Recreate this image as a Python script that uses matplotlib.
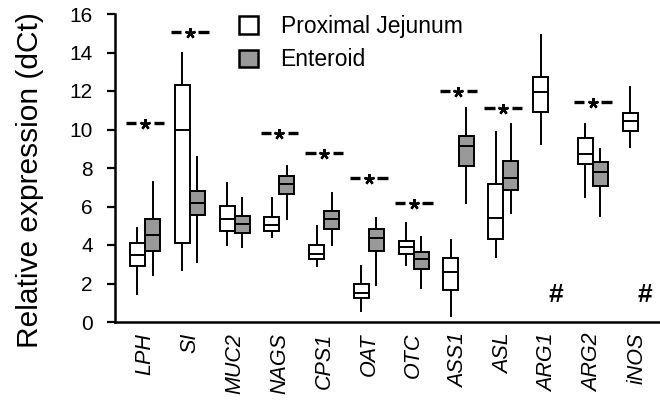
import numpy as np
import matplotlib
matplotlib.use("Agg")
import matplotlib.pyplot as plt
from matplotlib.patches import Patch

plt.rcParams['font.family'] = ['Liberation Sans', 'DejaVu Sans']

# Gene names on the x axis
genes = ['LPH', 'SI', 'MUC2', 'NAGS', 'CPS1', 'OAT', 'OTC', 'ASS1',
         'ASL', 'ARG1', 'ARG2', 'iNOS']

# Proximal jejunum boxes: whisker low, q1, median, q3, whisker high
jej_lo = [1.44, 2.70, 4.00, 4.43, 2.90, 0.57, 2.96, 0.31, 3.39, 9.23, 6.48, 9.07]
jej_q1 = [2.91, 4.08, 4.74, 4.74, 3.27, 1.23, 3.51, 1.66, 4.29, 10.89, 8.21, 9.92]
jej_med = [3.48, 9.97, 5.35, 5.04, 3.53, 1.49, 3.88, 2.61, 5.38, 11.96, 8.73, 10.44]
jej_q3 = [4.12, 12.30, 6.03, 5.44, 4.00, 1.97, 4.23, 3.34, 7.17, 12.74, 9.58, 10.87]
jej_hi = [4.90, 14.00, 7.24, 6.46, 4.99, 2.93, 5.13, 4.26, 9.89, 14.90, 10.27, 12.22]

# Enteroid boxes (ARG1 and iNOS not detected -> None)
ent_lo = [2.42, 3.13, 3.91, 5.35, 4.00, 1.92, 1.75, 6.20, 5.68, None, 5.51, None]
ent_q1 = [3.69, 5.56, 4.64, 6.63, 4.81, 3.71, 2.75, 8.12, 6.86, None, 7.08, None]
ent_med = [4.52, 6.20, 5.07, 7.15, 5.33, 4.35, 3.27, 9.16, 7.46, None, 7.81, None]
ent_q3 = [5.35, 6.82, 5.52, 7.58, 5.78, 4.83, 3.62, 9.66, 8.36, None, 8.30, None]
ent_hi = [7.29, 8.59, 6.42, 8.12, 6.68, 5.38, 4.43, 11.13, 10.27, None, 8.97, None]

# Significance bars (None = no star)
sig_y = [10.34, 15.05, None, 9.80, 8.76, 7.50, 6.17, 12.02, 11.10, None, 11.45, None]
# "#" = not detected in enteroid
nd_y = 1.4

gray = '#999999'
x = np.arange(len(genes))
off = 0.168
bw = 0.335

fig = plt.figure(figsize=(6.6, 4.01), dpi=100)
ax = fig.add_axes([115 / 660, 79 / 401, 545 / 660, 308 / 401])


def stats(lo, q1, med, q3, hi):
    out = []
    for a, b, c, d, e in zip(lo, q1, med, q3, hi):
        out.append({'whislo': a, 'q1': b, 'med': c, 'q3': d, 'whishi': e})
    return out


lw = 1.4
common = dict(widths=bw, showcaps=False, showfliers=False, patch_artist=True,
              whiskerprops=dict(color='black', linewidth=lw),
              medianprops=dict(color='black', linewidth=lw))

ax.bxp(stats(jej_lo, jej_q1, jej_med, jej_q3, jej_hi), positions=x - off,
       boxprops=dict(facecolor='white', edgecolor='black', linewidth=lw),
       **common)

ent_idx = [i for i in range(len(genes)) if ent_med[i] is not None]
ax.bxp(stats([ent_lo[i] for i in ent_idx], [ent_q1[i] for i in ent_idx],
             [ent_med[i] for i in ent_idx], [ent_q3[i] for i in ent_idx],
             [ent_hi[i] for i in ent_idx]),
       positions=x[ent_idx] + off,
       boxprops=dict(facecolor=gray, edgecolor='black', linewidth=lw),
       **common)

# significance markers "-*-"
for i, yv in enumerate(sig_y):
    if yv is None:
        continue
    ax.plot([x[i] - 0.42, x[i] - 0.19], [yv, yv], color='black', lw=2.4,
            solid_capstyle='butt')
    ax.plot([x[i] + 0.19, x[i] + 0.42], [yv, yv], color='black', lw=2.4,
            solid_capstyle='butt')
    ax.plot(x[i], yv - 0.05, marker=(5, 2, 0), markersize=7.5, mew=1.7,
            color='black')

# not detected
for i in range(len(genes)):
    if ent_med[i] is None:
        ax.text(x[i] + off, nd_y, '#', ha='center', va='center',
                fontsize=19, fontweight='bold')

ax.set_xlim(-0.67, 11.5)
ax.set_ylim(0, 16)
ax.set_yticks(np.arange(0, 17, 2))
ax.tick_params(axis='y', labelsize=15, width=1.6, length=6, pad=10)
ax.set_xticks(x)
ax.set_xticklabels(genes, rotation=90, fontstyle='italic', fontsize=15.5)
ax.tick_params(axis='x', length=0, pad=8)
for s in ['top', 'right']:
    ax.spines[s].set_visible(False)
for s in ['left', 'bottom']:
    ax.spines[s].set_linewidth(1.8)

ax.set_ylabel('Relative expression (dCt)', fontsize=21.5)
ax.yaxis.set_label_coords(-0.13, 0.462)

handles = [Patch(facecolor='white', edgecolor='black', linewidth=1.8),
           Patch(facecolor=gray, edgecolor='black', linewidth=1.8)]
ax.legend(handles, ['Proximal Jejunum', 'Enteroid'], loc='upper left',
          bbox_to_anchor=(0.228, 0.997), frameon=False, fontsize=16.5,
          handlelength=0.8, handleheight=0.8, handletextpad=1.0,
          labelspacing=0.45, borderpad=0, borderaxespad=0)

fig.savefig('out.png', dpi=100)
